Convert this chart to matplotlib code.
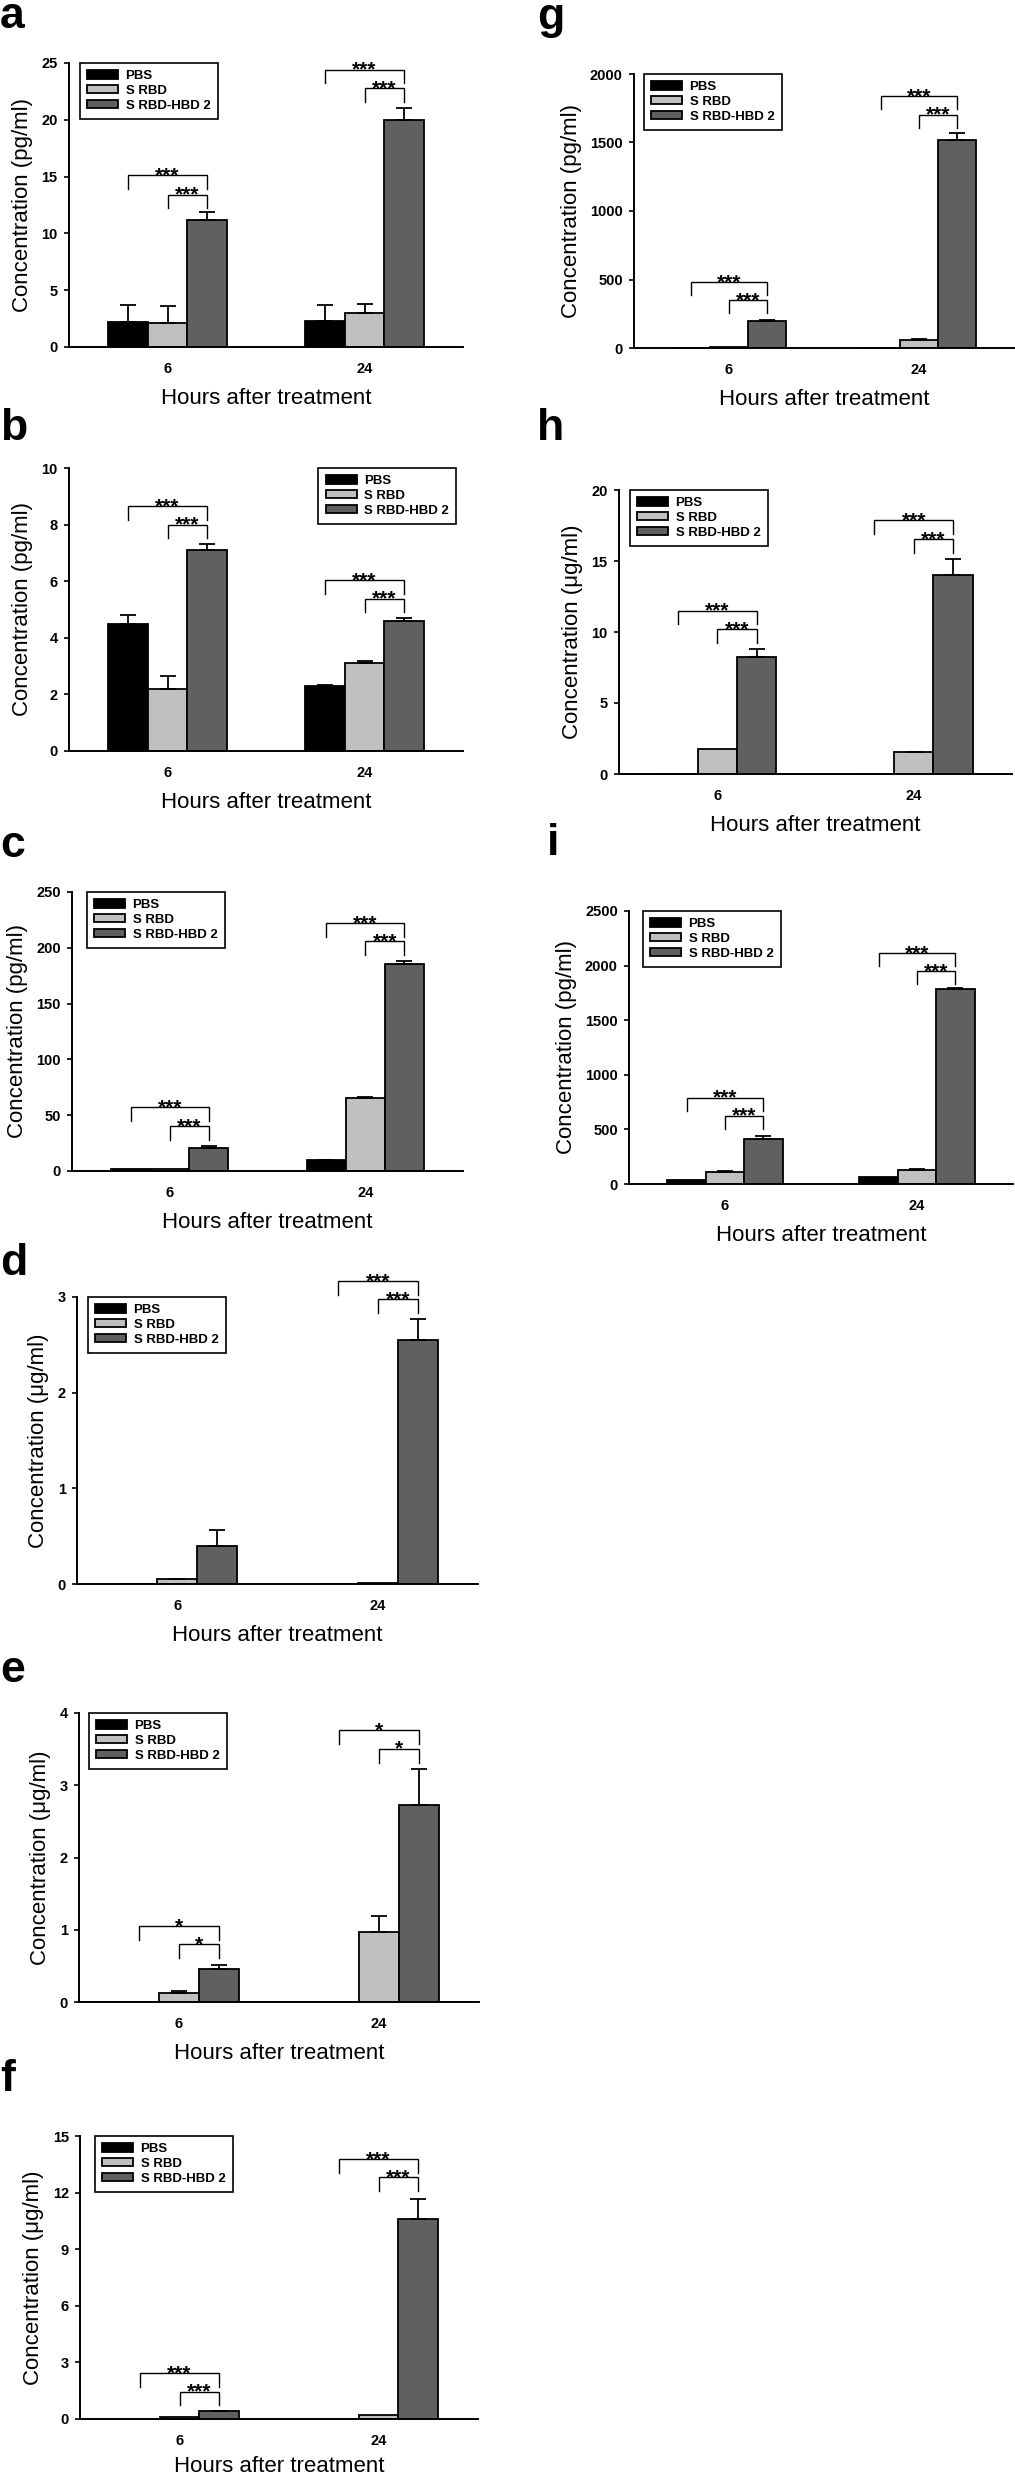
import numpy as np
import matplotlib
matplotlib.use('Agg')
import matplotlib.pyplot as plt

plt.rcParams['font.family'] = ['Liberation Sans', 'DejaVu Sans']

W, H = 1015, 2475

groups = ['6', '24']
series = ['PBS', 'S RBD', 'S RBD-HBD 2']
colors = ['#000000', '#c0c0c0', '#606060']
xlabel = 'Hours after treatment'
ylab_pg = 'Concentration (pg/ml)'
ylab_ug = 'Concentration (\u03bcg/ml)'

# means / upper errors: one list per series, values for [6 h, 24 h]
a_mean = [[2.2, 2.25], [2.1, 3.0], [11.2, 20.0]]
a_err = [[1.5, 1.45], [1.5, 0.75], [0.65, 1.05]]
a_sig = [[15.1, 13.4], [24.4, 22.8]]
a_star = '***'
a_ticks = [0, 5, 10, 15, 20, 25]

b_mean = [[4.5, 2.3], [2.2, 3.1], [7.1, 4.6]]
b_err = [[0.32, 0.03], [0.46, 0.07], [0.2, 0.09]]
b_sig = [[8.66, 8.0], [6.03, 5.38]]
b_star = '***'
b_ticks = [0, 2, 4, 6, 8, 10]

c_mean = [[2.0, 9.6], [2.0, 65.6], [20.7, 185.6]]
c_err = [[0.0, 0.6], [0.0, 0.6], [1.5, 2.7]]
c_sig = [[57.2, 40.1], [221.9, 205.7]]
c_star = '***'
c_ticks = [0, 50, 100, 150, 200, 250]

d_mean = [[0.0, 0.003], [0.05, 0.015], [0.40, 2.55]]
d_err = [[0.0, 0.0], [0.006, 0.0], [0.165, 0.22]]
d_sig = [None, [3.167, 2.976]]
d_star = '***'
d_ticks = [0, 1, 2, 3]

e_mean = [[0.0, 0.005], [0.13, 0.97], [0.45, 2.73]]
e_err = [[0.0, 0.0], [0.02, 0.225], [0.065, 0.5]]
e_sig = [[1.052, 0.798], [3.76, 3.506]]
e_star = '*'
e_ticks = [0, 1, 2, 3, 4]

f_mean = [[0.0, 0.0], [0.12, 0.21], [0.40, 10.62]]
f_err = [[0.0, 0.0], [0.0, 0.0], [0.03, 1.06]]
f_sig = [[2.44, 1.45], [13.76, 12.81]]
f_star = '***'
f_ticks = [0, 3, 6, 9, 12, 15]

g_mean = [[0.0, 0.0], [10.0, 56.0], [199.0, 1516.0]]
g_err = [[0.0, 0.0], [0.0, 7.0], [8.0, 51.0]]
g_sig = [[482, 348], [1837, 1703]]
g_star = '***'
g_ticks = [0, 500, 1000, 1500, 2000]

h_mean = [[0.02, 0.02], [1.74, 1.53], [8.26, 13.99]]
h_err = [[0.0, 0.0], [0.0, 0.03], [0.57, 1.13]]
h_sig = [[11.5, 10.19], [17.89, 16.55]]
h_star = '***'
h_ticks = [0, 5, 10, 15, 20]

i_mean = [[40.0, 67.0], [107.0, 128.0], [414.0, 1784.0]]
i_err = [[0.0, 0.0], [9.0, 6.0], [30.0, 13.0]]
i_sig = [[792, 625], [2116, 1949]]
i_star = '***'
i_ticks = [0, 500, 1000, 1500, 2000, 2500]

panels = {
    'a': (a_mean, a_err, a_sig, a_star, a_ticks, ylab_pg),
    'b': (b_mean, b_err, b_sig, b_star, b_ticks, ylab_pg),
    'c': (c_mean, c_err, c_sig, c_star, c_ticks, ylab_pg),
    'd': (d_mean, d_err, d_sig, d_star, d_ticks, ylab_ug),
    'e': (e_mean, e_err, e_sig, e_star, e_ticks, ylab_ug),
    'f': (f_mean, f_err, f_sig, f_star, f_ticks, ylab_ug),
    'g': (g_mean, g_err, g_sig, g_star, g_ticks, ylab_pg),
    'h': (h_mean, h_err, h_sig, h_star, h_ticks, ylab_ug),
    'i': (i_mean, i_err, i_sig, i_star, i_ticks, ylab_pg),
}

# layout in pixels: axes (x0, ytop, x1, ybottom), legend x, legend side,
# label (x, baseline), xlabel pad (pt)
layout = {
    'a': ((69, 63, 463, 347), 80, 'left', (0, 28), 8.5),
    'b': ((69, 468, 463, 751), 456, 'right', (0, 440), 8.5),
    'c': ((72, 892, 463, 1171), 87, 'left', (0, 857), 8.5),
    'd': ((77, 1297, 478, 1584), 88, 'left', (0, 1275), 8.5),
    'e': ((79, 1713, 479, 2002), 89, 'left', (0, 1682), 8.5),
    'f': ((80, 2136, 478, 2419), 95, 'left', (0, 2091), 6.0),
    'g': ((634, 74, 1014, 348), 644, 'left', (537, 29), 8.5),
    'h': ((619, 490, 1012, 774), 630, 'left', (537, 440), 8.5),
    'i': ((629, 911, 1013, 1184), 643, 'left', (547, 855), 8.5),
}

fig = plt.figure(figsize=(W / 100, H / 100), dpi=100)

bw = 0.2
xg = np.arange(len(groups))
lw = 1.3


def bracket(ax, x1, x2, y, leg, label):
    ax.plot([x1, x1, x2, x2], [y - leg, y, y, y - leg], color='black',
            lw=1.0, clip_on=False, zorder=4, solid_joinstyle='miter')
    ax.annotate(label, xy=((x1 + x2) / 2, y), xytext=(0, -4.3),
                textcoords='offset points', ha='center', va='baseline',
                fontsize=15, fontweight='bold', annotation_clip=False)


for key, (mean, err, sig, star, ticks, ylab) in panels.items():
    (x0, yt, x1, yb), legx, side, (lx, ly), xpad = layout[key]
    ax = fig.add_axes([x0 / W, 1 - yb / H, (x1 - x0) / W, (yb - yt) / H])
    ymax = ticks[-1]
    for j, name in enumerate(series):
        xs = xg + (j - 1) * bw
        ax.bar(xs, mean[j], width=bw, color=colors[j], edgecolor='black',
               linewidth=lw, label=name, zorder=2)
        for k in range(len(groups)):
            if err[j][k] > 0:
                ax.errorbar(xs[k], mean[j][k], yerr=[[0], [err[j][k]]],
                            fmt='none', ecolor='black', elinewidth=lw,
                            capsize=6, capthick=lw, zorder=3)
    leg = 0.048 * ymax
    for k in range(len(groups)):
        if sig[k] is None:
            continue
        outer, inner = sig[k]
        bracket(ax, xg[k] - bw, xg[k] + bw, outer, leg, star)
        bracket(ax, xg[k], xg[k] + bw, inner, leg, star)

    ax.set_xlim(-0.5, 1.5)
    ax.set_ylim(0, ymax)
    ax.set_yticks(ticks)
    ax.set_xticks(xg)
    ax.set_xticklabels(groups)
    for s in ['top', 'right']:
        ax.spines[s].set_visible(False)
    for s in ['left', 'bottom']:
        ax.spines[s].set_linewidth(1.4)
    ax.tick_params(axis='y', direction='out', length=3.6, width=1.2, pad=4.5,
                   labelsize=10.5)
    ax.tick_params(axis='x', length=0, pad=10.8, labelsize=10.5)
    for t in ax.get_xticklabels() + ax.get_yticklabels():
        t.set_fontweight('bold')
    ax.set_xlabel(xlabel, fontsize=16, labelpad=xpad)
    ax.set_ylabel(ylab, fontsize=16, labelpad=6)

    width = x1 - x0
    if side == 'left':
        anchor, loc = ((legx - x0) / width, 1.0), 'upper left'
    else:
        anchor, loc = ((legx - x0) / width, 1.0), 'upper right'
    lg = ax.legend(loc=loc, bbox_to_anchor=anchor, borderaxespad=0,
                   fancybox=False, framealpha=1, edgecolor='black',
                   prop={'size': 9.5, 'weight': 'bold'}, handlelength=2.35,
                   handleheight=0.6, handletextpad=0.55, labelspacing=0.2,
                   borderpad=0.55)
    lg.get_frame().set_linewidth(1.2)

    fig.text(lx / W, 1 - ly / H, key, fontsize=32, fontweight='bold',
             ha='left', va='baseline')

fig.savefig('out.png', dpi=100, facecolor='white')
